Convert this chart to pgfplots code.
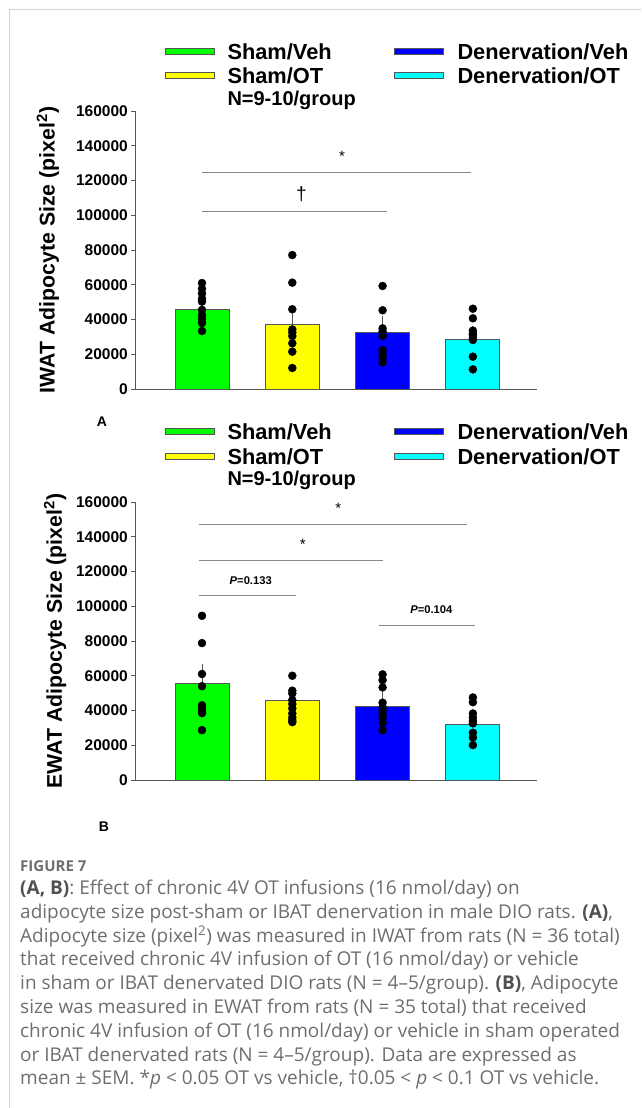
\documentclass[border=0pt]{standalone}
\usepackage{pgfplots}
\pgfplotsset{compat=1.18}
\usepackage{fontspec}
\setmainfont{Liberation Sans}
\newfontfamily\capfont{Open Sans}
\definecolor{cgreen}{RGB}{0,255,0}
\definecolor{cyellow}{RGB}{255,255,0}
\definecolor{cblue}{RGB}{0,0,255}
\definecolor{ccyan}{RGB}{0,255,255}
\definecolor{edge}{RGB}{85,85,85}
\definecolor{sig}{RGB}{135,135,135}
\definecolor{captxt}{RGB}{110,110,110}
\definecolor{capdark}{RGB}{80,80,80}
\definecolor{frame}{RGB}{210,210,210}
\newcommand{\fs}[1]{\fontsize{#1}{#1}\selectfont}

\pgfplotsset{panel/.style={
  scale only axis, width=402pt, height=278pt, anchor=south west,
  xmin=-0.742, xmax=3.71, ymin=0, ymax=160000,
  axis lines=left, axis line style={draw=edge, line width=0.9pt, -},
  xtick=\empty, ytick={0,20000,40000,60000,80000,100000,120000,140000,160000},
  tick align=outside, major tick length=4pt,
  every tick/.style={draw=edge, line width=0.9pt},
  scaled y ticks=false,
  /pgf/number format/fixed, /pgf/number format/1000 sep={},
  /pgf/number format/assume math mode=true,
  yticklabel style={font=\fs{15.5}\bfseries, inner sep=0pt, xshift=-3pt},
  ylabel style={font=\fs{21.3}\bfseries, anchor=base},
  clip=false,
},
bar/.style={ybar, bar width=54pt, bar shift=0pt, draw=edge, line width=0.9pt,
  error bars/y dir=plus, error bars/y explicit,
  error bars/error bar style={draw=edge, line width=0.9pt},
  error bars/error mark options={draw=edge, mark size=8pt, line width=0.9pt}},
dots/.style={only marks, mark=*, mark size=4pt, black},
sigline/.style={sig, line width=1pt, no marks},
}

\begin{document}
\begin{tikzpicture}[x=1pt,y=1pt]
\path[use as bounding box] (0,0) rectangle (641,-1108);
\draw[frame, line width=1pt] (9.3,-1108) -- (9.3,-9.3) -- (641,-9.3);

% ---------------- Panel A ----------------
\begin{axis}[panel, at={(135pt,-389pt)},
  ylabel={IWAT Adipocyte Size (pixel\textsuperscript{2})},
  ylabel style={at={(axis description cs:-0.2,0.5)}}]
\addplot[bar, fill=cgreen]  coordinates {(0,46000) +- (0,3300)};
\addplot[bar, fill=cyellow] coordinates {(1,37000) +- (0,6300)};
\addplot[bar, fill=cblue]   coordinates {(2,32600) +- (0,4800)};
\addplot[bar, fill=ccyan]   coordinates {(3,28600) +- (0,3050)};
\addplot[dots] coordinates {
 (0,61000) (0,57700) (0,55000) (0,52000) (0,50300) (0,45500) (0,42600) (0,40300) (0,38000) (0,33400)
 (1,77100) (1,61200) (1,45900) (1,34300) (1,32600) (1,30500) (1,26300) (1,21500) (1,12100)
 (2,59300) (2,45300) (2,34900) (2,33000) (2,30500) (2,22400) (2,20000) (2,18200) (2,15300)
 (3,46200) (3,40700) (3,33600) (3,32000) (3,31100) (3,29500) (3,28200) (3,18600) (3,11300)
};
\addplot[sigline] coordinates {(0,124700) (2.98,124700)};
\addplot[sigline] coordinates {(0,102000) (2.05,102000)};
\node[font=\fs{15}] at (axis cs:1.55,134000) {*};
\node[font=\fs{19}] at (axis cs:1.10,112000) {\textdagger};
\end{axis}

% legend A
\draw[edge, fill=cgreen, line width=0.8pt]  (165,-48.3) rectangle (214,-54.3);
\draw[edge, fill=cyellow, line width=0.8pt] (165,-72.5) rectangle (214,-78.5);
\draw[edge, fill=cblue, line width=0.8pt]   (394,-48.3) rectangle (443,-54.3);
\draw[edge, fill=ccyan, line width=0.8pt]   (394,-72.5) rectangle (443,-78.5);
\node[anchor=base west, inner sep=0, font=\fs{21.8}\bfseries] at (227.3,-59.1) {Sham/Veh};
\node[anchor=base west, inner sep=0, font=\fs{21.8}\bfseries] at (227.3,-83.3) {Sham/OT};
\node[anchor=base west, inner sep=0, font=\fs{21.8}\bfseries] at (457.3,-59.1) {Denervation/Veh};
\node[anchor=base west, inner sep=0, font=\fs{21.8}\bfseries] at (457.3,-83.3) {Denervation/OT};
\node[anchor=base west, inner sep=0, font=\fs{20}\bfseries] at (227.3,-105) {N=9-10/group};
\node[font=\fs{14}\bfseries] at (102,-422) {A};

% ---------------- Panel B ----------------
\begin{axis}[panel, at={(135pt,-780pt)},
  ylabel={EWAT Adipocyte Size (pixel\textsuperscript{2})},
  ylabel style={at={(axis description cs:-0.182,0.5)}}]
\addplot[bar, fill=cgreen]  coordinates {(0,55400) +- (0,6900)};
\addplot[bar, fill=cyellow] coordinates {(1,45600) +- (0,2700)};
\addplot[bar, fill=cblue]   coordinates {(2,42400) +- (0,4000)};
\addplot[bar, fill=ccyan]   coordinates {(3,32200) +- (0,2900)};
\addplot[dots] coordinates {
 (0,94500) (0,78800) (0,61000) (0,54000) (0,43000) (0,42000) (0,40600) (0,39000) (0,38500) (0,28700)
 (1,60000) (1,51400) (1,49800) (1,46000) (1,43700) (1,41200) (1,38300) (1,36000) (1,34500) (1,33300)
 (2,60800) (2,57500) (2,53300) (2,44500) (2,42000) (2,40200) (2,38000) (2,36000) (2,33000) (2,28700)
 (3,47500) (3,44800) (3,38300) (3,36000) (3,34000) (3,32600) (3,27200) (3,24500) (3,20100)
};
\addplot[sigline] coordinates {(-0.03,147000) (2.93,147000)};
\addplot[sigline] coordinates {(-0.03,126500) (2.0,126500)};
\addplot[sigline] coordinates {(-0.03,106000) (1.04,106000)};
\addplot[sigline] coordinates {(1.96,89100) (3.02,89100)};
\node[font=\fs{15}] at (axis cs:1.51,156300) {*};
\node[font=\fs{15}] at (axis cs:1.115,135900) {*};
\node[font=\fs{11.2}\bfseries] at (axis cs:0.54,115000) {\textit{P}=0.133};
\node[font=\fs{11.2}\bfseries] at (axis cs:2.54,98000) {\textit{P}=0.104};
\end{axis}

% legend B
\draw[edge, fill=cgreen, line width=0.8pt]  (165,-428.3) rectangle (214,-434.3);
\draw[edge, fill=cyellow, line width=0.8pt] (165,-453.5) rectangle (214,-459.5);
\draw[edge, fill=cblue, line width=0.8pt]   (394,-428.3) rectangle (443,-434.3);
\draw[edge, fill=ccyan, line width=0.8pt]   (394,-453.5) rectangle (443,-459.5);
\node[anchor=base west, inner sep=0, font=\fs{21.8}\bfseries] at (227.3,-439.1) {Sham/Veh};
\node[anchor=base west, inner sep=0, font=\fs{21.8}\bfseries] at (227.3,-464.3) {Sham/OT};
\node[anchor=base west, inner sep=0, font=\fs{21.8}\bfseries] at (457.3,-439.1) {Denervation/Veh};
\node[anchor=base west, inner sep=0, font=\fs{21.8}\bfseries] at (457.3,-464.3) {Denervation/OT};
\node[anchor=base west, inner sep=0, font=\fs{20}\bfseries] at (227.3,-485) {N=9-10/group};
\node[font=\fs{14}\bfseries] at (104,-827) {B};

% ---------------- Caption ----------------
\begin{scope}[every node/.style={anchor=base west, inner sep=0, text=captxt, font=\capfont\fs{19}}]
\node[font=\capfont\fs{15}\bfseries] at (20,-871.5) {FIGURE 7};
\node at (20,-894.5) {\textcolor{capdark}{\textbf{(A, B)}}: Effect of chronic 4V OT infusions (16 nmol/day) on};
\node at (20,-918.3) {adipocyte size post-sham or IBAT denervation in male DIO rats. \textcolor{capdark}{\textbf{(A)}},};
\node at (20,-942.1) {Adipocyte size (pixel\textsuperscript{2}) was measured in IWAT from rats (N = 36 total)};
\node at (20,-965.9) {that received chronic 4V infusion of OT (16 nmol/day) or vehicle};
\node at (20,-989.7) {in sham or IBAT denervated DIO rats (N = 4–5/group). \textcolor{capdark}{\textbf{(B)}}, Adipocyte};
\node at (20,-1013.5) {size was measured in EWAT from rats (N = 35 total) that received};
\node at (20,-1037.3) {chronic 4V infusion of OT (16 nmol/day) or vehicle in sham operated};
\node at (20,-1061.1) {or IBAT denervated rats (N = 4–5/group). Data are expressed as};
\node at (20,-1084.9) {mean ± SEM. *\textit{p} < 0.05 OT vs vehicle, †0.05 < \textit{p} < 0.1 OT vs vehicle.};
\end{scope}
\end{tikzpicture}
\end{document}
